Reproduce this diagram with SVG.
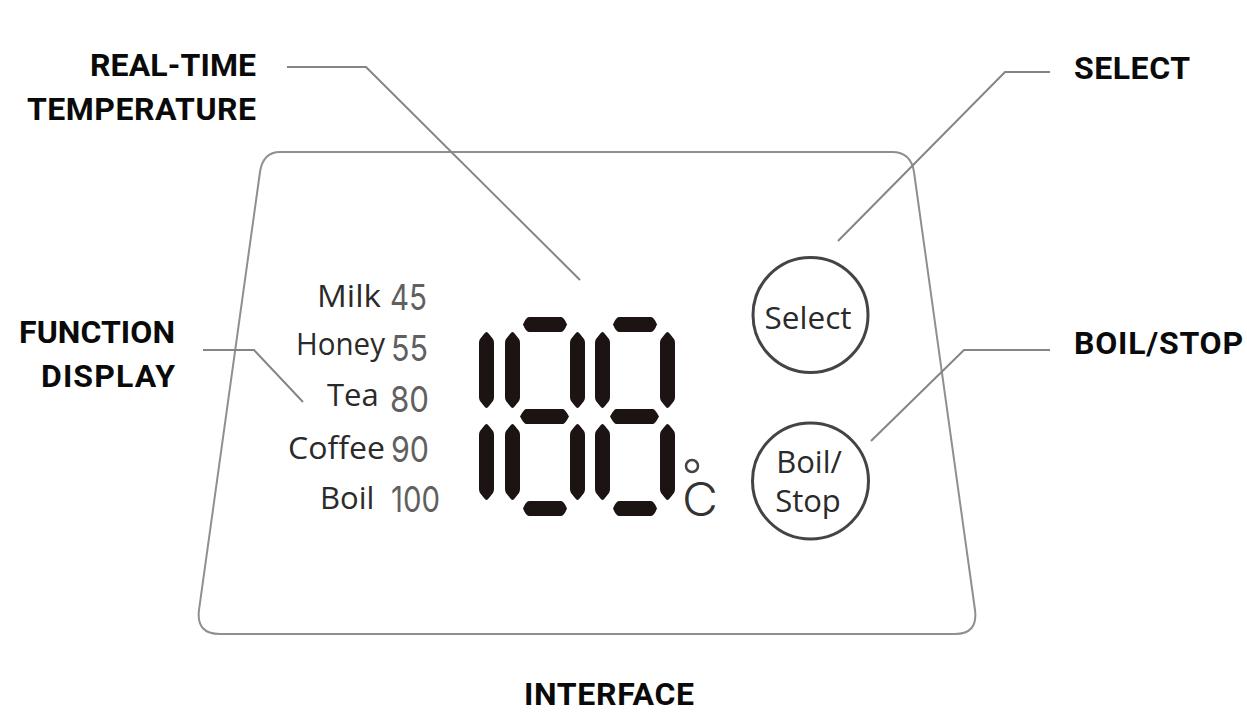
<svg xmlns="http://www.w3.org/2000/svg" width="1247" height="715" viewBox="0 0 1247 715">
<defs>
<path id="v" d="M7.500 0 Q8.500 0 10 2 L14 7 Q15 8.500 15 11 L15 65 Q15 67.500 14 69 L10 74 Q8.500 76 7.500 76 Q6.500 76 5 74 L1 69 Q0 67.500 0 65 L0 11 Q0 8.500 1 7 L5 2 Q6.500 0 7.500 0 Z"/>
<path id="h" d="M6 0 L38 0 Q41 0 44 7.500 Q41 15 38 15 L6 15 Q3 15 0 7.500 Q3 0 6 0 Z"/>
<path id="m" d="M6 0 L43 0 Q45 0 49 7.500 Q45 15 43 15 L6 15 Q4 15 0 7.500 Q4 0 6 0 Z"/>
</defs>
<style>
.lab{font-family:"Roboto","Liberation Sans",sans-serif;font-weight:700;font-size:32px;fill:#0a0a0a}
.fn{font-family:"Open Sans","Liberation Sans",sans-serif;font-size:31px;fill:#2a2a2a}
.num{font-family:"Inter","Liberation Sans",sans-serif;font-weight:400;font-size:36px;fill:#606060}
.btn{font-family:"Open Sans","Liberation Sans",sans-serif;font-size:31px;fill:#2a2a2a;text-anchor:middle}
.seg{fill:#1c1412}
.ln{fill:none;stroke:#858585;stroke-width:2}
</style>
<rect width="1247" height="715" fill="#fff"/>
<g id="panel"><path d="M280 152 L892 152 Q911 152 914 172 L975 610 Q978 634 955 634 L220 634 Q196 634 199 610 L260 172 Q263 152 280 152 Z" fill="none" stroke="#8f8f8f" stroke-width="2"/></g>
<g id="connectors">
<path class="ln" d="M287 67 L366 67 L580 280"/>
<path class="ln" d="M1050 72 L1005 72 L838 241"/>
<path class="ln" d="M203 350 L254 350 L303 402"/>
<path class="ln" d="M1050 350 L964 350 L871 441"/>
</g>
<g id="label-realtime"><text class="lab" x="90" y="76" textLength="166">REAL-TIME</text><text class="lab" x="27" y="120" textLength="229">TEMPERATURE</text></g>
<g id="label-select"><text class="lab" x="1074" y="79" textLength="116">SELECT</text></g>
<g id="label-function"><text class="lab" x="19" y="343" textLength="156">FUNCTION</text><text class="lab" x="41" y="387" textLength="134">DISPLAY</text></g>
<g id="label-boil"><text class="lab" x="1074" y="354" textLength="169">BOIL/STOP</text></g>
<g id="label-interface"><text class="lab" x="524" y="705" textLength="170">INTERFACE</text></g>
<g id="functions">
<text class="fn" x="317" y="307" textLength="64" lengthAdjust="spacingAndGlyphs">Milk</text><text class="num" x="390" y="310" textLength="37" lengthAdjust="spacingAndGlyphs">45</text>
<text class="fn" x="296" y="355" textLength="89" lengthAdjust="spacingAndGlyphs">Honey</text><text class="num" x="391" y="361" textLength="37" lengthAdjust="spacingAndGlyphs">55</text>
<text class="fn" x="327" y="406">Tea</text><text class="num" x="390" y="412" textLength="39" lengthAdjust="spacingAndGlyphs">80</text>
<text class="fn" x="288" y="459" textLength="97" lengthAdjust="spacingAndGlyphs">Coffee</text><text class="num" x="391" y="462" textLength="38" lengthAdjust="spacingAndGlyphs">90</text>
<text class="fn" x="320" y="509">Boil</text><text class="num" x="391" y="512" textLength="49" lengthAdjust="spacingAndGlyphs">100</text>
</g>
<g id="display">
<use class="seg" href="#v" x="479" y="332"/><use class="seg" href="#v" x="479" y="424"/>
<use class="seg" href="#v" x="505" y="332"/><use class="seg" href="#v" x="505" y="424"/>
<use class="seg" href="#v" x="570" y="332"/><use class="seg" href="#v" x="570" y="424"/>
<use class="seg" href="#v" x="595" y="332"/><use class="seg" href="#v" x="595" y="424"/>
<use class="seg" href="#v" x="660" y="332"/><use class="seg" href="#v" x="660" y="424"/>
<use class="seg" href="#h" x="523" y="317"/><use class="seg" href="#h" x="613" y="317"/>
<use class="seg" href="#m" x="520" y="409"/><use class="seg" href="#m" x="610" y="409"/>
<use class="seg" href="#h" x="523" y="501"/><use class="seg" href="#h" x="613" y="501"/>
<circle cx="692" cy="466" r="6" fill="none" stroke="#444" stroke-width="2.500"/>
<text x="682" y="516" font-family="Inter,'Liberation Sans',sans-serif" font-size="46" font-weight="300" fill="#333" textLength="36" lengthAdjust="spacingAndGlyphs">C</text>
</g>
<g id="btn-select"><circle cx="810.500" cy="315" r="57.500" fill="#fff" stroke="#444" stroke-width="3"/><text class="btn" x="808" y="329" textLength="87" lengthAdjust="spacingAndGlyphs">Select</text></g>
<g id="btn-boil"><circle cx="810.500" cy="481" r="58" fill="#fff" stroke="#444" stroke-width="3"/><text class="btn" x="809" y="473">Boil/</text><text class="btn" x="808" y="512">Stop</text></g>
</svg>
